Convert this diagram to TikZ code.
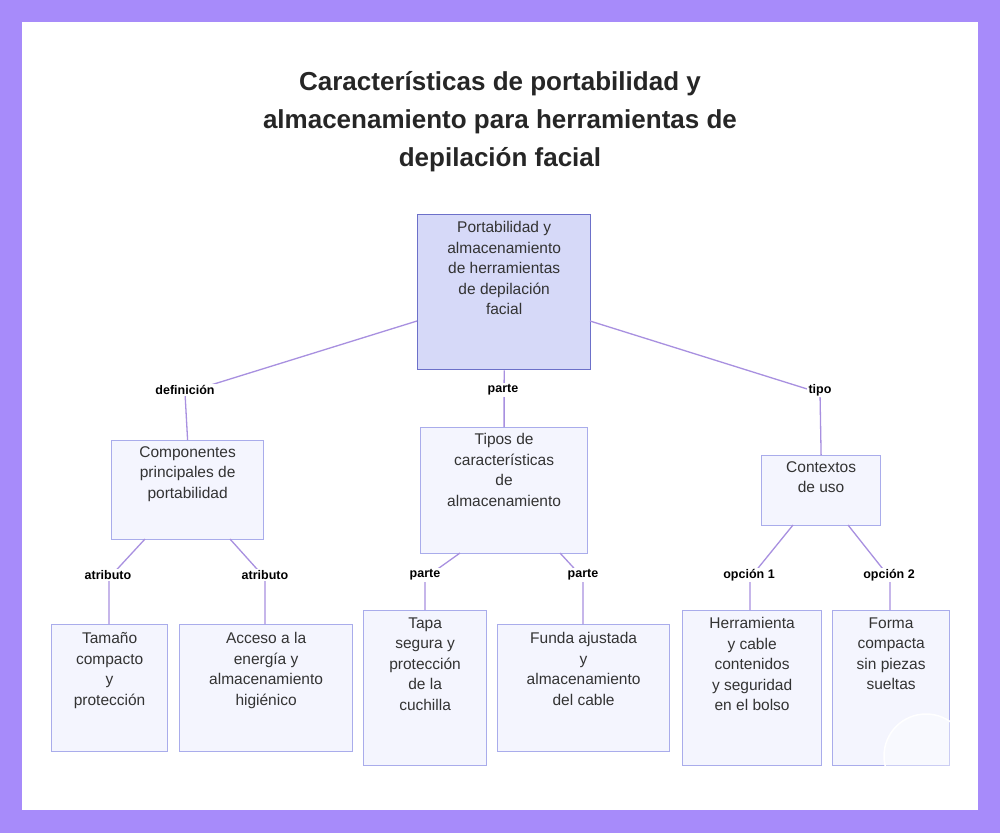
\documentclass[tikz,border=0pt]{standalone}
\usepackage{fontspec}
\setmainfont{Liberation Sans}
\begin{document}
\definecolor{bord}{HTML}{A78BFA}
\definecolor{edge}{HTML}{A890E0}
\definecolor{rootf}{HTML}{D6D9F8}
\definecolor{rootd}{HTML}{6C70C9}
\definecolor{leaff}{HTML}{F4F5FE}
\definecolor{leafd}{HTML}{A9ACEB}
\definecolor{txt}{HTML}{333333}
\begin{tikzpicture}[x=1pt,y=-1pt,
  box/.style={draw=leafd,fill=leaff,line width=1.2pt,align=center,text=txt,font=\fontsize{15.5}{20.5}\selectfont,inner sep=0pt},
  rootb/.style={box,draw=rootd,fill=rootf,line width=1.3pt},
  lab/.style={font=\bfseries\fontsize{12.5}{14}\selectfont,text=black,fill=white,inner sep=1.5pt},
  con/.style={draw=edge,line width=1.3pt}]
\useasboundingbox (0,0) rectangle (1000,833);
\fill[bord] (0,0) rectangle (1000,833);
\fill[white] (22,22) rectangle (978,810);
\node[font=\bfseries\fontsize{26}{38}\selectfont,align=center,text=black!85] (title) at (500,122) {Características de portabilidad y\\almacenamiento para herramientas de\\depilación facial};
\node[rootb,minimum width=173pt,minimum height=155pt,anchor=north west] (root) at (417,214) {};
\node[box,minimum width=152pt,minimum height=99pt,anchor=north west] (comp) at (111,440) {};
\node[box,minimum width=167pt,minimum height=126pt,anchor=north west] (tipos) at (420,427) {};
\node[box,minimum width=119pt,minimum height=70pt,anchor=north west] (ctx) at (761,455) {};
\node[box,minimum width=116pt,minimum height=127pt,anchor=north west] (tam) at (51,624) {};
\node[box,minimum width=173pt,minimum height=127pt,anchor=north west] (acc) at (179,624) {};
\node[box,minimum width=123pt,minimum height=155pt,anchor=north west] (tapa) at (363,610) {};
\node[box,minimum width=172pt,minimum height=127pt,anchor=north west] (fun) at (497,624) {};
\node[box,minimum width=139pt,minimum height=155pt,anchor=north west] (her) at (682,610) {};
\node[box,minimum width=117pt,minimum height=155pt,anchor=north west] (for) at (832,610) {};
\tikzset{tx/.style={box,draw=none,fill=none,anchor=north}}
\node[tx] (roott) at ([yshift=-7pt]root.north) {Portabilidad y\\almacenamiento\\de herramientas\\de depilación\\facial};
\node[tx] (compt) at ([yshift=-6pt]comp.north) {Componentes\\principales de\\portabilidad};
\node[tx] (tipost) at ([yshift=-6pt]tipos.north) {Tipos de\\características\\de\\almacenamiento};
\node[tx] (ctxt) at ([yshift=-6pt]ctx.north) {Contextos\\de uso};
\node[tx] (tamt) at ([yshift=-8pt]tam.north) {Tamaño\\compacto\\y\\protección};
\node[tx] (acct) at ([yshift=-8pt]acc.north) {Acceso a la\\energía y\\almacenamiento\\higiénico};
\node[tx] (tapat) at ([yshift=-7pt]tapa.north) {Tapa\\segura y\\protección\\de la\\cuchilla};
\node[tx] (funt) at ([yshift=-8pt]fun.north) {Funda ajustada\\y\\almacenamiento\\del cable};
\node[tx] (hert) at ([yshift=-7pt]her.north) {Herramienta\\y cable\\contenidos\\y seguridad\\en el bolso};
\node[tx] (fort) at ([yshift=-7pt]for.north) {Forma\\compacta\\sin piezas\\sueltas};
\coordinate (r1) at (417,321); \coordinate (r2) at (590,321);
\coordinate (b1) at (185,393); \coordinate (b3) at (820,393);
\draw[con] (r1) -- (b1) -- (comp.north);
\draw[con] (root.south) -- (tipos.north);
\draw[con] (r2) -- (b3) -- (ctx.north);
\node[lab] (l1) at (185,390) {definición};
\node[lab] (l2) at (503,390) {parte};
\node[lab] (l3) at (820,390) {tipo};
\coordinate (c1) at (145,539); \coordinate (c2) at (230,539);
\coordinate (t1) at (460,553); \coordinate (t2) at (560,553);
\coordinate (x1) at (793,525); \coordinate (x2) at (848,525);
\coordinate (k1) at (109,578); \coordinate (k2) at (265,578);
\coordinate (k3) at (425,578); \coordinate (k4) at (583,578);
\coordinate (k5) at (750,578); \coordinate (k6) at (890,578);
\draw[con] (c1) -- (k1) -- (tam.north -| k1);
\draw[con] (c2) -- (k2) -- (acc.north -| k2);
\draw[con] (t1) -- (k3) -- (tapa.north -| k3);
\draw[con] (t2) -- (k4) -- (fun.north -| k4);
\draw[con] (x1) -- (k5) -- (her.north -| k5);
\draw[con] (x2) -- (k6) -- (for.north -| k6);
\node[lab] at (108,575) {atributo};
\node[lab] at (265,575) {atributo};
\node[lab] at (425,575) {parte};
\node[lab] at (583,575) {parte};
\node[lab] at (749,575) {opción 1};
\node[lab] at (889,575) {opción 2};
\draw[white,line width=1.5pt,fill=white,fill opacity=0.4] (926,756) circle (42);
\end{tikzpicture}
\end{document}
